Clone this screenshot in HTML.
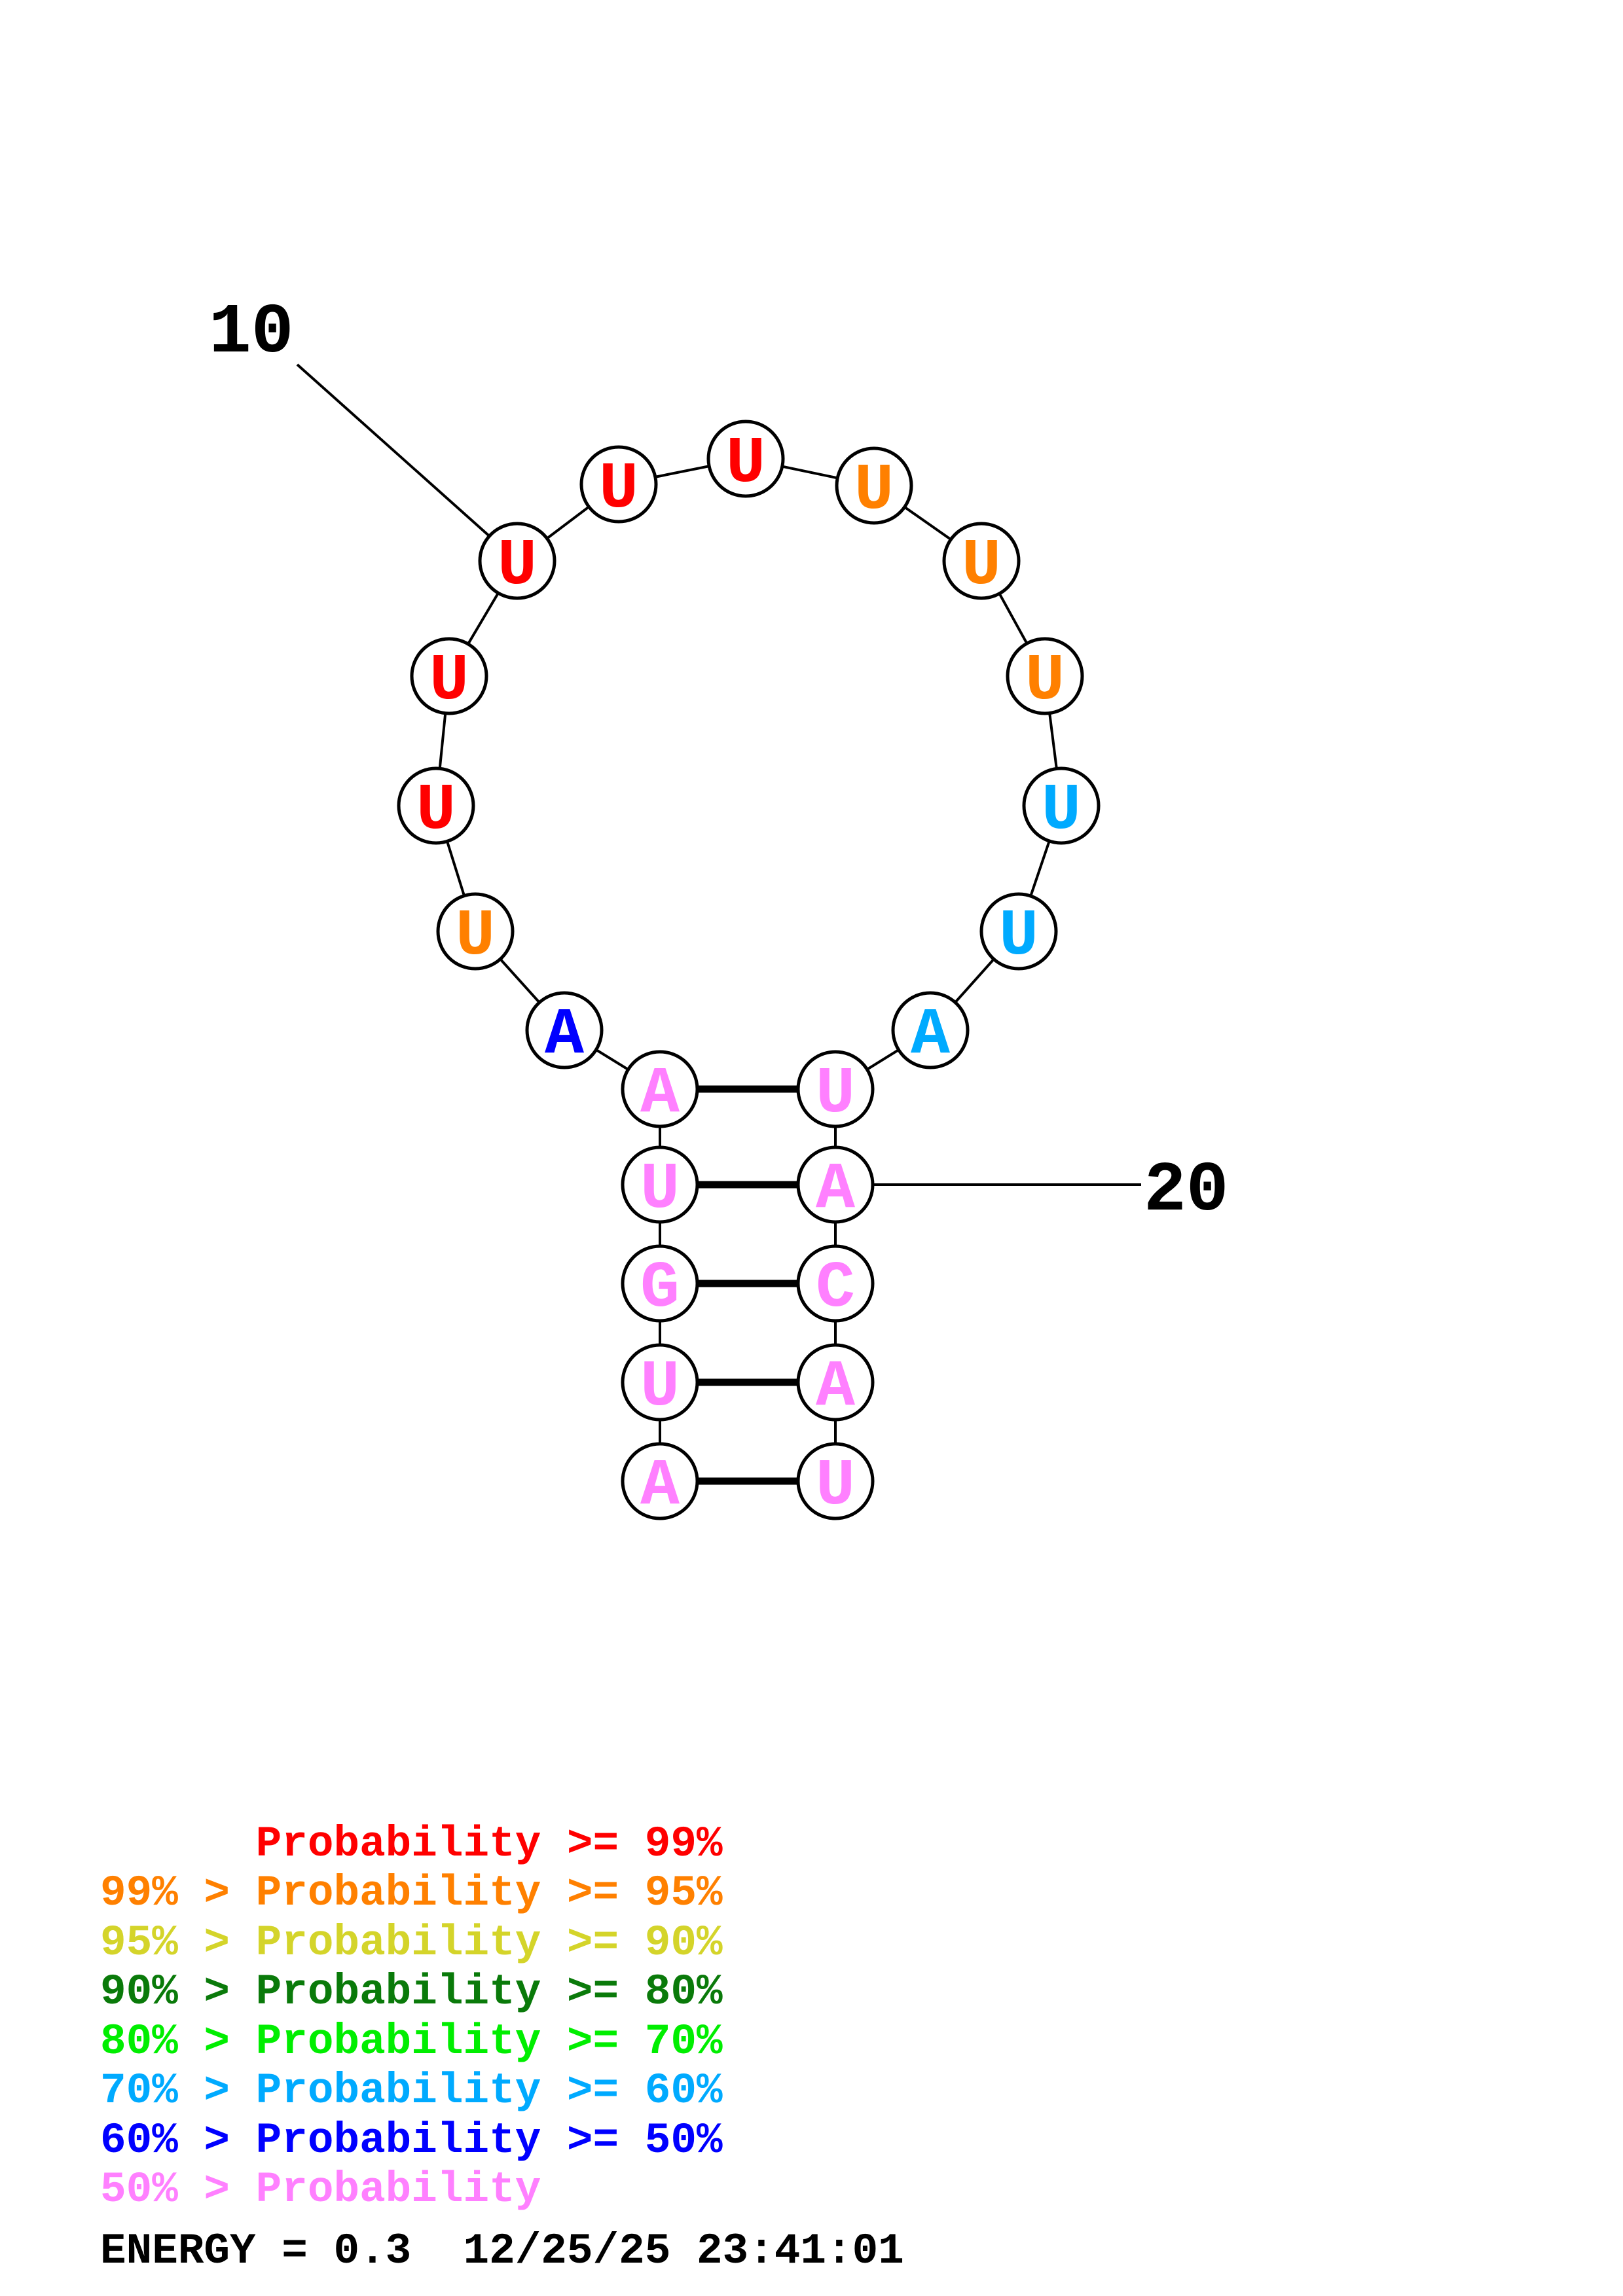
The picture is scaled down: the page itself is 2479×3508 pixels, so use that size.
<!DOCTYPE html>
<html><head><meta charset="utf-8"><style>
html,body{margin:0;padding:0;background:#fff;}
svg{display:block;}
.pre text{white-space:pre;}
</style></head><body>
<svg width="2479" height="3508" viewBox="0 0 2479 3508" xmlns="http://www.w3.org/2000/svg">
<g transform="translate(-6,-4)">
<g stroke="#000" stroke-width="4" fill="none">
<polyline points="1014,2267 1014,2116 1014,1965 1014,1814 1014,1668 868,1578 732,1427 672,1235 692,1037 796,861 951,744 1145,705 1341,746 1505,861 1602,1037 1627,1235 1562,1427 1427,1578 1282,1668 1282,1814 1282,1965 1282,2116 1282,2267"/>
<line x1="460" y1="561" x2="796" y2="861"/>
<line x1="1282" y1="1814" x2="1749" y2="1814"/>
</g>
<g stroke="#000" stroke-width="11">
<line x1="1014" y1="1668" x2="1282" y2="1668"/>
<line x1="1014" y1="1814" x2="1282" y2="1814"/>
<line x1="1014" y1="1965" x2="1282" y2="1965"/>
<line x1="1014" y1="2116" x2="1282" y2="2116"/>
<line x1="1014" y1="2267" x2="1282" y2="2267"/>
</g>
<g stroke="#000" stroke-width="5" fill="#fff">
<circle cx="868" cy="1578" r="57"/><circle cx="732" cy="1427" r="57"/><circle cx="672" cy="1235" r="57"/>
<circle cx="692" cy="1037" r="57"/><circle cx="796" cy="861" r="57"/><circle cx="951" cy="744" r="57"/>
<circle cx="1145" cy="705" r="57"/><circle cx="1341" cy="746" r="57"/><circle cx="1505" cy="861" r="57"/>
<circle cx="1602" cy="1037" r="57"/><circle cx="1627" cy="1235" r="57"/><circle cx="1562" cy="1427" r="57"/>
<circle cx="1427" cy="1578" r="57"/>
<circle cx="1014" cy="1668" r="57"/><circle cx="1014" cy="1814" r="57"/><circle cx="1014" cy="1965" r="57"/><circle cx="1014" cy="2116" r="57"/><circle cx="1014" cy="2267" r="57"/>
<circle cx="1282" cy="1668" r="57"/><circle cx="1282" cy="1814" r="57"/><circle cx="1282" cy="1965" r="57"/><circle cx="1282" cy="2116" r="57"/><circle cx="1282" cy="2267" r="57"/>
</g>
<g font-family="Liberation Mono, monospace" font-weight="bold" font-size="100" text-anchor="middle">
<text x="868" y="1612" fill="#0000ff">A</text>
<text x="732" y="1461" fill="#ff8000">U</text>
<text x="672" y="1269" fill="#ff0000">U</text>
<text x="692" y="1071" fill="#ff0000">U</text>
<text x="796" y="895" fill="#ff0000">U</text>
<text x="951" y="778" fill="#ff0000">U</text>
<text x="1145" y="739" fill="#ff0000">U</text>
<text x="1341" y="780" fill="#ff8000">U</text>
<text x="1505" y="895" fill="#ff8000">U</text>
<text x="1602" y="1071" fill="#ff8000">U</text>
<text x="1627" y="1269" fill="#00aaff">U</text>
<text x="1562" y="1461" fill="#00aaff">U</text>
<text x="1427" y="1612" fill="#00aaff">A</text>
<g fill="#ff80ff">
<text x="1014" y="1702">A</text><text x="1014" y="1848">U</text><text x="1014" y="1999">G</text><text x="1014" y="2150">U</text><text x="1014" y="2301">A</text>
<text x="1282" y="1702">U</text><text x="1282" y="1848">A</text><text x="1282" y="1999">C</text><text x="1282" y="2150">A</text><text x="1282" y="2301">U</text>
</g>
</g>
<g font-family="Liberation Mono, monospace" font-weight="bold" font-size="108" fill="#000">
<text x="325" y="541">10</text>
<text x="1753" y="1852">20</text>
</g>
</g>
<g class="pre" font-family="Liberation Mono, monospace" font-weight="bold" font-size="66" transform="translate(0,-20)">
<text x="153" y="2855" fill="#ff0000">      Probability &gt;= 99%</text>
<text x="153" y="2930" fill="#ff8000">99% &gt; Probability &gt;= 95%</text>
<text x="153" y="3006" fill="#d4d42a">95% &gt; Probability &gt;= 90%</text>
<text x="153" y="3081" fill="#0a7a0a">90% &gt; Probability &gt;= 80%</text>
<text x="153" y="3157" fill="#00ee00">80% &gt; Probability &gt;= 70%</text>
<text x="153" y="3232" fill="#00aaff">70% &gt; Probability &gt;= 60%</text>
<text x="153" y="3308" fill="#0000ff">60% &gt; Probability &gt;= 50%</text>
<text x="153" y="3383" fill="#ff80ff">50% &gt; Probability</text>
<text x="153" y="3477" fill="#000">ENERGY = 0.3  12/25/25 23:41:01</text>
</g>
</svg>
</body></html>
